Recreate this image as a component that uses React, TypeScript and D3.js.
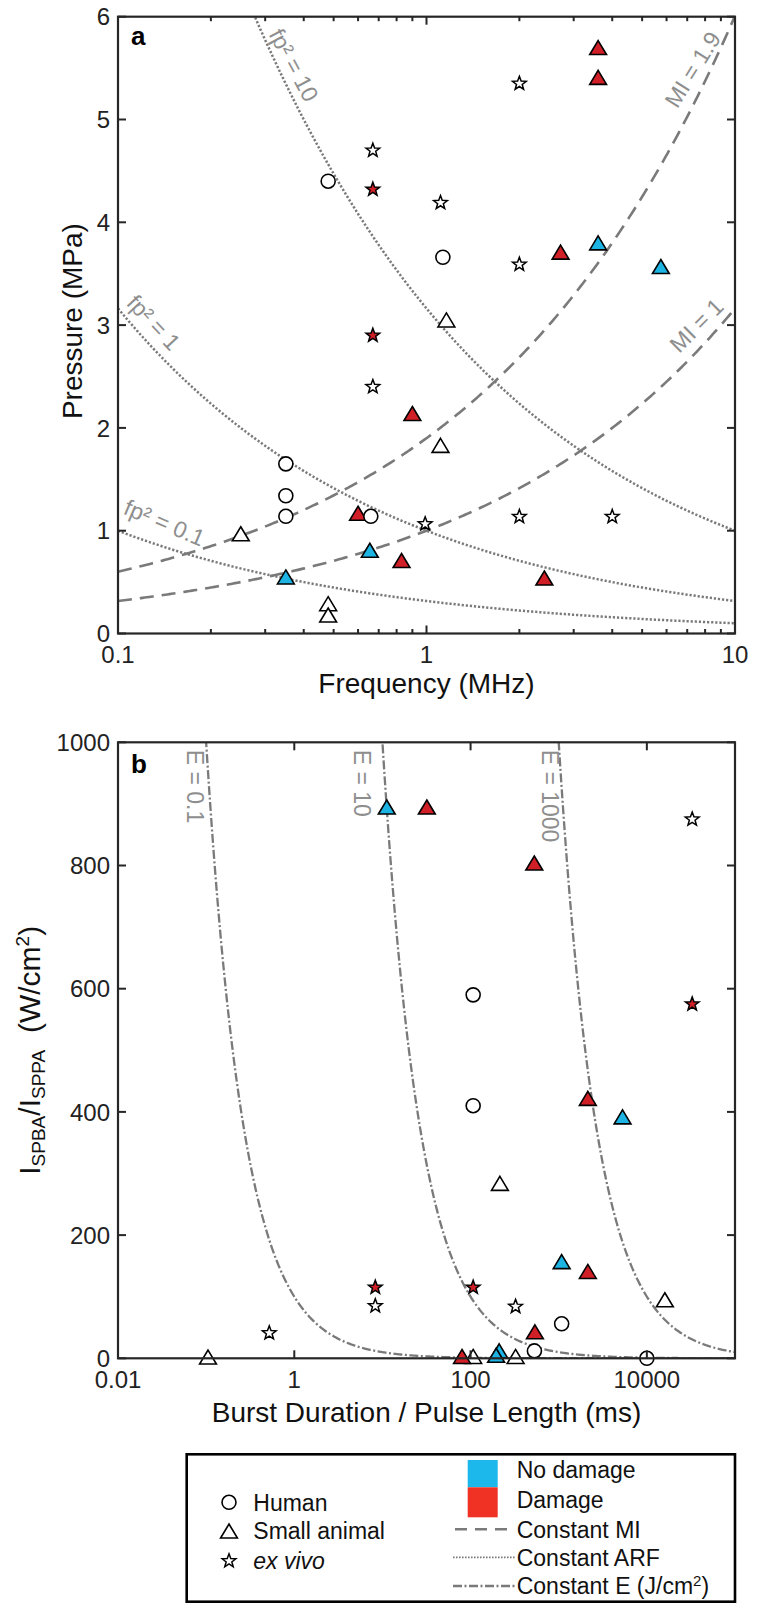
import React from 'react';
import * as d3 from 'd3';

const W = 760;
const H = 1611;
const FONT = "'Liberation Sans', Arial, Helvetica, sans-serif";

// ---------- Panel a: [frequency (MHz), pressure (MPa)] ----------
const aHuman = [[0.48, 4.40], [1.13, 3.66], [0.35, 1.65], [0.35, 1.34], [0.35, 1.14], [0.66, 1.14]];
const aAnimalOpen = [[0.25, 0.97], [0.48, 0.29], [0.48, 0.18], [1.16, 3.05], [1.11, 1.83]];
const aAnimalNoDamage = [[0.35, 0.55], [0.655, 0.81], [3.6, 3.80], [5.75, 3.57]];
const aAnimalDamage = [[3.6, 5.70], [3.6, 5.41], [2.72, 3.71], [0.90, 2.14], [0.60, 1.17], [0.83, 0.71], [2.41, 0.54]];
const aExVivoOpen = [[0.67, 4.70], [1.11, 4.19], [2.0, 5.35], [2.0, 3.59], [0.67, 2.40], [0.99, 1.065], [2.0, 1.136], [4.0, 1.136]];
const aExVivoDamage = [[0.67, 4.32], [0.67, 2.90]];

// ---------- Panel b: [burst duration (ms), intensity (W/cm2)] ----------
const bHuman = [[107, 590], [107, 410], [1080, 56], [530, 12], [10000, 0]];
const bAnimalOpen = [[0.105, 2], [16000, 95], [215, 284], [107, 3], [324, 3]];
const bAnimalNoDamage = [[11.2, 895], [5300, 392], [1080, 157], [211, 12], [195, 5]];
const bAnimalDamage = [[31.9, 895], [528, 804], [2140, 422], [2140, 141], [537, 43], [80, 3]];
const bExVivoOpen = [[0.52, 41], [8.3, 85], [324, 84], [32700, 875]];
const bExVivoDamage = [[8.3, 115], [107, 115], [32700, 575]];

// reference curve constants
const miValues = [1, 1.9];
const arfValues = [0.1, 1, 10];
const eValues = [0.1, 10, 1000];

// label anchors (data coords) and rotation
const miLabels = [
  { v: '1.9', f: 6.5, p: 5.1, rot: -58 },
  { v: '1', f: 6.6, p: 2.72, rot: -45 },
];
const arfLabels = [
  { v: '10', f: 0.307, p: 5.83, rot: 62 },
  { v: '1', f: 0.1057, p: 3.205, rot: 47 },
  { v: '0.1', f: 0.1033, p: 1.167, rot: 23 },
];
const eLabels = [
  { v: '0.1', t: 0.061, i: 988 },
  { v: '10', t: 4.75, i: 988 },
  { v: '1000', t: 640, i: 988 },
];

const aYTicks = [0, 1, 2, 3, 4, 5, 6];
const aXTicks = [0.1, 1, 10];
const aXTickLabels = ['0.1', '1', '10'];
const bYTicks = [0, 200, 400, 600, 800, 1000];
const bXTicks = [0.01, 1, 100, 10000];
const bXTickLabels = ['0.01', '1', '100', '10000'];

const BLUE = '#1db4e4';
const RED = '#d01f26';
const LEG_BLUE = '#1cb8ec';
const LEG_RED = '#ef3224';
const CURVE = '#7a7a7a';
const LABEL_GRAY = '#8e8e8e';
const AXIS = '#262626';

const L = 118, R = 735;
const aTop = 16.7, aBot = 633.5;
const bTop = 742.3, bBot = 1358.3;

const xA = d3.scaleLog().domain([0.1, 10]).range([L, R]);
const yA = d3.scaleLinear().domain([0, 6]).range([aBot, aTop]);
const xB = d3.scaleLog().domain([0.01, 1e5]).range([L, R]);
const yB = d3.scaleLinear().domain([0, 1000]).range([bBot, bTop]);

const triPath = 'M0,-7L8.4,7L-8.4,7Z';
const starPath = (() => {
  const pts: string[] = [];
  for (let k = 0; k < 10; k++) {
    const r = k % 2 === 0 ? 7.2 : 3.0;
    const a = -Math.PI / 2 + (k * Math.PI) / 5;
    pts.push(`${(r * Math.cos(a)).toFixed(2)},${(r * Math.sin(a)).toFixed(2)}`);
  }
  return 'M' + pts.join('L') + 'Z';
})();

const Tri = ({ x, y, fill }: any) => (
  <path d={triPath} transform={`translate(${x},${y})`} fill={fill} stroke="#000" strokeWidth={1.6} strokeLinejoin="miter" />
);
const Circ = ({ x, y }: any) => <circle cx={x} cy={y} r={7} fill="#fff" stroke="#000" strokeWidth={1.6} />;
const Star = ({ x, y, fill }: any) => (
  <path d={starPath} transform={`translate(${x},${y})`} fill={fill} stroke="#000" strokeWidth={1.5} strokeLinejoin="miter" />
);

const logSamples = (lo: number, hi: number, n: number) =>
  d3.range(n + 1).map((i) => Math.pow(10, Math.log10(lo) + ((Math.log10(hi) - Math.log10(lo)) * i) / n));

export default function App() {
  const fS = logSamples(0.1, 10, 300);
  const tS = logSamples(0.01, 1e5, 600);
  const lineA = d3.line<number[]>().x((d) => xA(d[0])).y((d) => yA(d[1]));
  const lineB = d3.line<number[]>().x((d) => xB(d[0])).y((d) => yB(d[1]));

  const minorA: number[] = [];
  [0.1, 1].forEach((d) => {
    for (let k = 2; k <= 9; k++) minorA.push(k * d);
  });

  return (
    <svg width={W} height={H} style={{ position: 'absolute', left: 0, top: 0, fontFamily: FONT }}>
      <defs>
        <clipPath id="clipA"><rect x={L} y={aTop} width={R - L} height={aBot - aTop} /></clipPath>
        <clipPath id="clipB"><rect x={L} y={bTop} width={R - L} height={bBot - bTop} /></clipPath>
      </defs>
      <rect x={0} y={0} width={W} height={H} fill="#fff" />

      {/* ================= Panel a ================= */}
      <g clipPath="url(#clipA)">
        {miValues.map((mi) => (
          <path key={'mi' + mi} d={lineA(fS.map((f) => [f, mi * Math.sqrt(f)]))!} fill="none" stroke={CURVE} strokeWidth={2.6} strokeDasharray="14 8" />
        ))}
        {arfValues.map((c) => (
          <path key={'arf' + c} d={lineA(fS.map((f) => [f, Math.sqrt(c / f)]))!} fill="none" stroke={CURVE} strokeWidth={2.5} strokeDasharray="2.2 1.9" />
        ))}
      </g>
      {arfLabels.map((lb) => (
        <text key={'arfl' + lb.v} transform={`translate(${xA(lb.f)},${yA(lb.p)}) rotate(${lb.rot})`} fontSize={23} fill={LABEL_GRAY}>
          {`fp² = ${lb.v}`}
        </text>
      ))}
      {miLabels.map((lb) => (
        <text key={'mil' + lb.v} transform={`translate(${xA(lb.f)},${yA(lb.p)}) rotate(${lb.rot})`} fontSize={23} fill={LABEL_GRAY}>
          {`MI = ${lb.v}`}
        </text>
      ))}

      {aAnimalOpen.map((d, i) => <Tri key={'ao' + i} x={xA(d[0])} y={yA(d[1])} fill="#fff" />)}
      {aAnimalNoDamage.map((d, i) => <Tri key={'an' + i} x={xA(d[0])} y={yA(d[1])} fill={BLUE} />)}
      {aAnimalDamage.map((d, i) => <Tri key={'ad' + i} x={xA(d[0])} y={yA(d[1])} fill={RED} />)}
      {aHuman.map((d, i) => <Circ key={'ah' + i} x={xA(d[0])} y={yA(d[1])} />)}
      {aExVivoOpen.map((d, i) => <Star key={'aeo' + i} x={xA(d[0])} y={yA(d[1])} fill="#fff" />)}
      {aExVivoDamage.map((d, i) => <Star key={'aed' + i} x={xA(d[0])} y={yA(d[1])} fill={RED} />)}

      {/* axes a */}
      <rect x={L} y={aTop} width={R - L} height={aBot - aTop} fill="none" stroke={AXIS} strokeWidth={2.2} />
      {aYTicks.map((t) => (
        <g key={'ayt' + t}>
          <line x1={L} x2={L + 8} y1={yA(t)} y2={yA(t)} stroke={AXIS} strokeWidth={2} />
          <line x1={R} x2={R - 8} y1={yA(t)} y2={yA(t)} stroke={AXIS} strokeWidth={2} />
          <text x={L - 8} y={yA(t)} dy="0.36em" textAnchor="end" fontSize={24} fill="#222">{t}</text>
        </g>
      ))}
      {aXTicks.map((t, i) => (
        <g key={'axt' + t}>
          <line x1={xA(t)} x2={xA(t)} y1={aBot} y2={aBot - 8} stroke={AXIS} strokeWidth={2} />
          <line x1={xA(t)} x2={xA(t)} y1={aTop} y2={aTop + 8} stroke={AXIS} strokeWidth={2} />
          <text x={xA(t)} y={663} textAnchor="middle" fontSize={24} fill="#222">{aXTickLabels[i]}</text>
        </g>
      ))}
      {minorA.map((t) => (
        <g key={'axm' + t}>
          <line x1={xA(t)} x2={xA(t)} y1={aBot} y2={aBot - 4.5} stroke={AXIS} strokeWidth={2} />
          <line x1={xA(t)} x2={xA(t)} y1={aTop} y2={aTop + 4.5} stroke={AXIS} strokeWidth={2} />
        </g>
      ))}
      <text x={(L + R) / 2} y={693} textAnchor="middle" fontSize={28} fill="#111">Frequency (MHz)</text>
      <text transform={`translate(82,${(aTop + aBot) / 2 - 4}) rotate(-90)`} textAnchor="middle" fontSize={28} fill="#111">Pressure (MPa)</text>
      <text x={131} y={45} fontSize={26} fontWeight="bold" fill="#000">a</text>

      {/* ================= Panel b ================= */}
      <g clipPath="url(#clipB)">
        {eValues.map((e) => (
          <path key={'e' + e} d={lineB(tS.map((t) => [t, (1000 * e) / t]).filter((d) => d[1] < 1400))!} fill="none" stroke={CURVE} strokeWidth={2.3} strokeDasharray="9 2.5 2 2.5" />
        ))}
      </g>
      {eLabels.map((lb) => (
        <text key={'el' + lb.v} transform={`translate(${xB(lb.t)},${yB(lb.i)}) rotate(90)`} fontSize={23} fill={LABEL_GRAY}>
          {`E = ${lb.v}`}
        </text>
      ))}

      {bAnimalOpen.map((d, i) => <Tri key={'bo' + i} x={xB(d[0])} y={yB(d[1])} fill="#fff" />)}
      {bAnimalNoDamage.map((d, i) => <Tri key={'bn' + i} x={xB(d[0])} y={yB(d[1])} fill={BLUE} />)}
      {bAnimalDamage.map((d, i) => <Tri key={'bd' + i} x={xB(d[0])} y={yB(d[1])} fill={RED} />)}
      {bHuman.map((d, i) => <Circ key={'bh' + i} x={xB(d[0])} y={yB(d[1])} />)}
      {bExVivoOpen.map((d, i) => <Star key={'beo' + i} x={xB(d[0])} y={yB(d[1])} fill="#fff" />)}
      {bExVivoDamage.map((d, i) => <Star key={'bed' + i} x={xB(d[0])} y={yB(d[1])} fill={RED} />)}

      <rect x={L} y={bTop} width={R - L} height={bBot - bTop} fill="none" stroke={AXIS} strokeWidth={2.2} />
      {bYTicks.map((t) => (
        <g key={'byt' + t}>
          <line x1={L} x2={L + 8} y1={yB(t)} y2={yB(t)} stroke={AXIS} strokeWidth={2} />
          <line x1={R} x2={R - 8} y1={yB(t)} y2={yB(t)} stroke={AXIS} strokeWidth={2} />
          <text x={L - 8} y={yB(t)} dy="0.36em" textAnchor="end" fontSize={24} fill="#222">{t}</text>
        </g>
      ))}
      {bXTicks.map((t, i) => (
        <g key={'bxt' + t}>
          <line x1={xB(t)} x2={xB(t)} y1={bBot} y2={bBot - 8} stroke={AXIS} strokeWidth={2} />
          <line x1={xB(t)} x2={xB(t)} y1={bTop} y2={bTop + 8} stroke={AXIS} strokeWidth={2} />
          <text x={xB(t)} y={1388} textAnchor="middle" fontSize={24} fill="#222">{bXTickLabels[i]}</text>
        </g>
      ))}
      <text x={(L + R) / 2} y={1422} textAnchor="middle" fontSize={28} fill="#111">Burst Duration / Pulse Length (ms)</text>
      <text transform={`translate(40,${(bTop + bBot) / 2}) rotate(-90)`} textAnchor="middle" fontSize={30} fill="#111">
        I<tspan fontSize={19} dy={5}>SPBA</tspan>
        <tspan dy={-5}>/I</tspan>
        <tspan fontSize={19} dy={5}>SPPA</tspan>
        <tspan dy={-5} xmlSpace="preserve">{'  (W/cm'}</tspan>
        <tspan fontSize={19} dy={-11}>2</tspan>
        <tspan dy={11}>)</tspan>
      </text>
      <text x={131} y={773} fontSize={26} fontWeight="bold" fill="#000">b</text>

      {/* ================= Legend ================= */}
      <rect x={186.7} y={1454.3} width={735 - 186.7} height={1601.7 - 1454.3} fill="#fff" stroke="#000" strokeWidth={2.6} />
      <Circ x={229} y={1502.3} />
      <Tri x={229} y={1531} fill="#fff" />
      <Star x={229} y={1561} fill="#fff" />
      <text x={253.3} y={1502.3} dy="0.36em" fontSize={23} fill="#111">Human</text>
      <text x={253.3} y={1531} dy="0.36em" fontSize={23} fill="#111">Small animal</text>
      <text x={253.3} y={1561} dy="0.36em" fontSize={23} fill="#111" fontStyle="italic">ex vivo</text>

      <rect x={467.7} y={1460} width={30} height={27.3} fill={LEG_BLUE} />
      <rect x={467.7} y={1487.3} width={30} height={30} fill={LEG_RED} />
      <line x1={453} x2={515} y1={1529.3} y2={1529.3} stroke={CURVE} strokeWidth={2.4} strokeDasharray="12 8" strokeDashoffset={-2} />
      <line x1={453} x2={515} y1={1557.3} y2={1557.3} stroke={CURVE} strokeWidth={1.8} strokeDasharray="1.6 1.4" />
      <line x1={453} x2={515} y1={1586} y2={1586} stroke={CURVE} strokeWidth={2.3} strokeDasharray="9 2.5 2 2.5" />
      <text x={516.7} y={1470} dy="0.36em" fontSize={23} fill="#111">No damage</text>
      <text x={516.7} y={1499.3} dy="0.36em" fontSize={23} fill="#111">Damage</text>
      <text x={516.7} y={1529.3} dy="0.36em" fontSize={23} fill="#111">Constant MI</text>
      <text x={516.7} y={1557.3} dy="0.36em" fontSize={23} fill="#111">Constant ARF</text>
      <text x={516.7} y={1586} dy="0.36em" fontSize={23} fill="#111">
        Constant E (J/cm<tspan fontSize={15} dy={-8}>2</tspan><tspan dy={8}>)</tspan>
      </text>
    </svg>
  );
}
